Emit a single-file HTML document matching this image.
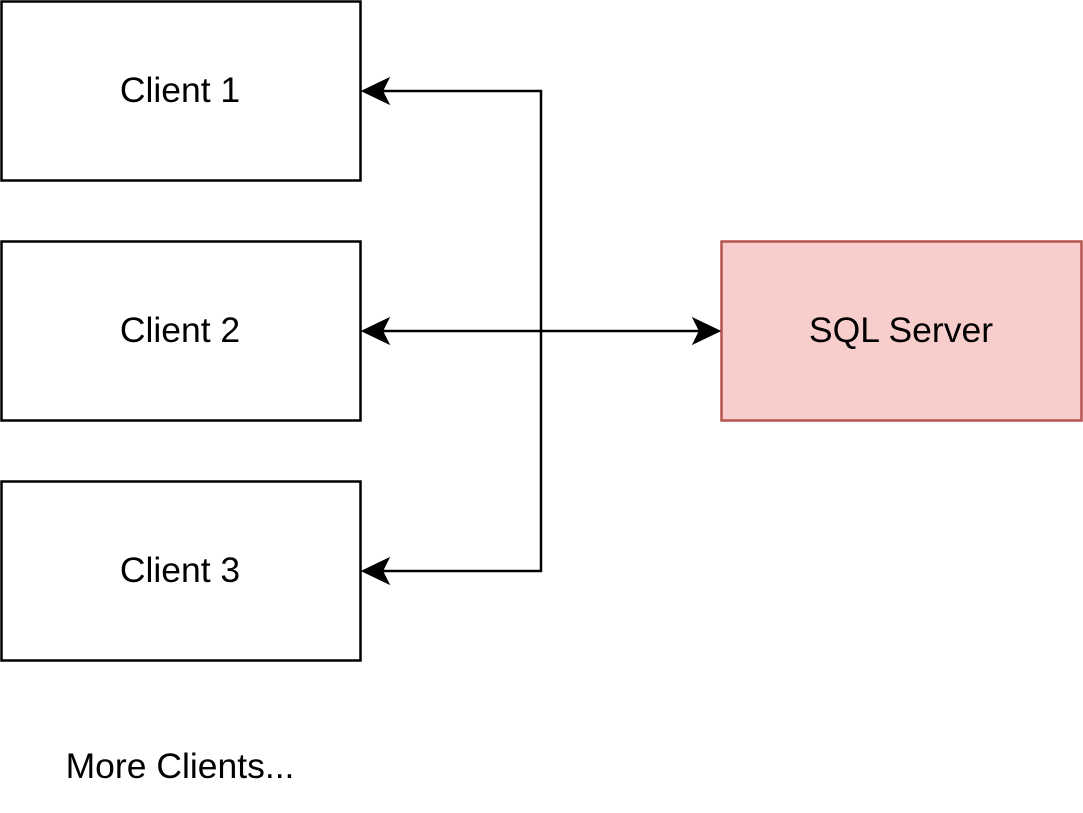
<!DOCTYPE html>
<html><head><style>
html,body{margin:0;padding:0;background:#fff;width:1083px;height:813px;overflow:hidden}
</style></head><body>
<svg width="1083" height="813" xmlns="http://www.w3.org/2000/svg" style="display:block">
<g font-family="Liberation Sans, Arial, sans-serif" font-size="35.5" text-anchor="middle">
<rect x="1.5" y="1.5" width="359" height="179" fill="#fff" stroke="#000" stroke-width="2.5"/>
<text x="180" y="102">Client 1</text>
<rect x="1.5" y="241.5" width="359" height="179" fill="#fff" stroke="#000" stroke-width="2.5"/>
<text x="180" y="342">Client 2</text>
<rect x="1.5" y="481.5" width="359" height="179" fill="#fff" stroke="#000" stroke-width="2.5"/>
<text x="180" y="582">Client 3</text>
<rect x="721.5" y="241.5" width="360" height="179" fill="#f8cecc" stroke="#b85450" stroke-width="2.5"/>
<text x="901" y="342">SQL Server</text>
<text x="180" y="778">More Clients...</text>
</g>
<g stroke="#000" stroke-width="2.5" fill="none">
<polyline points="380,91 541,91 541,571 380,571"/>
<line x1="380" y1="331" x2="703" y2="331"/>
</g>
<g fill="#000" stroke="#000" stroke-width="2" stroke-linejoin="miter">
<polygon points="363,91 388,79 382,91 388,103"/>
<polygon points="363,331 388,319 382,331 388,343"/>
<polygon points="363,571 388,559 382,571 388,583"/>
<polygon points="719,331 694,319 700,331 694,343"/>
</g>
</svg>
</body></html>
